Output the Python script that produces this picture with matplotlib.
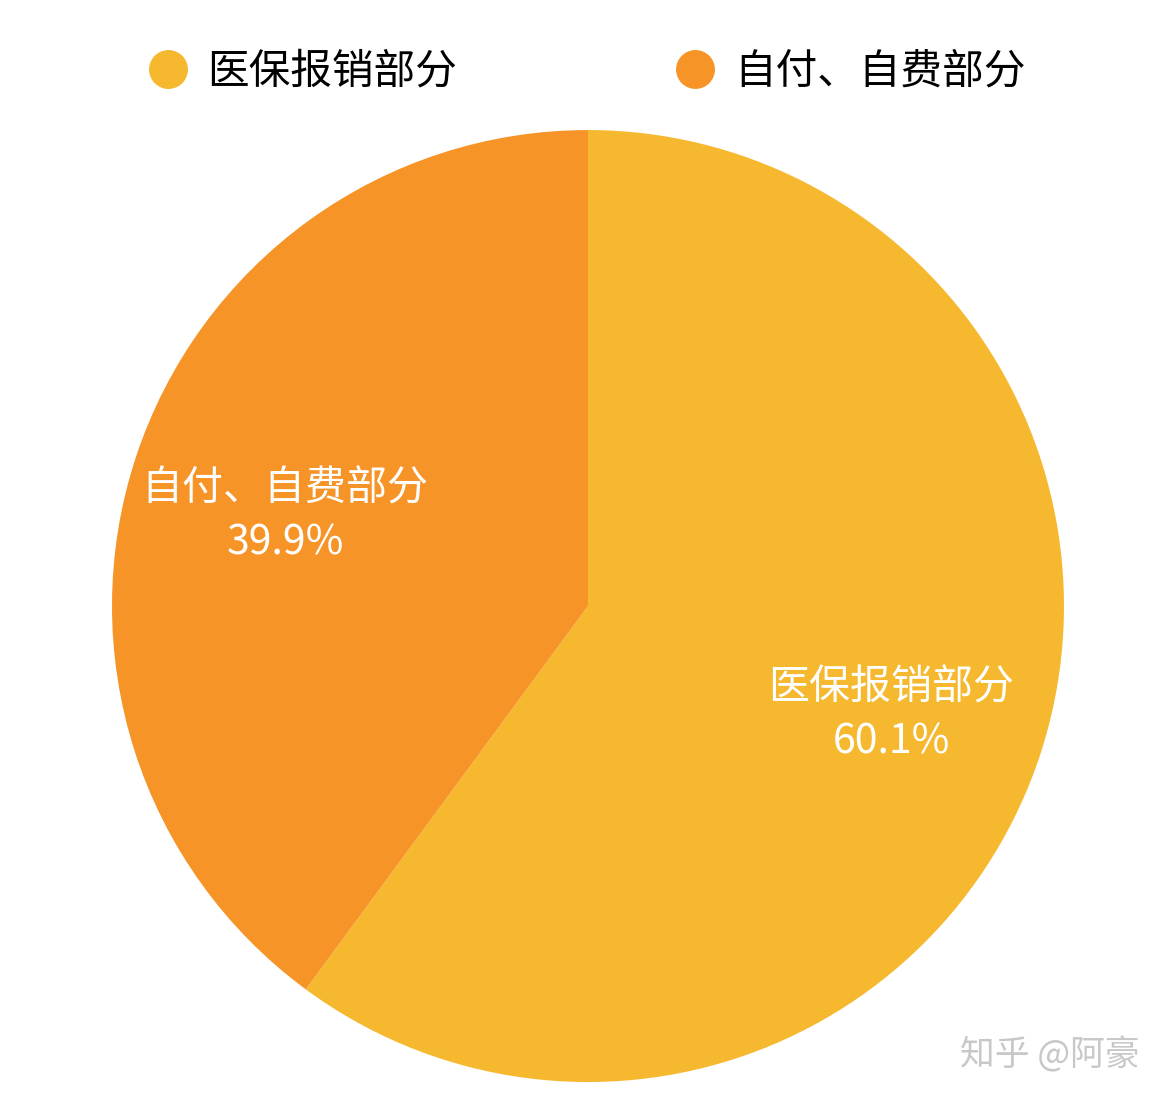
import matplotlib
matplotlib.use("Agg")
import matplotlib.pyplot as plt
from matplotlib.lines import Line2D

plt.rcParams['font.family'] = ['Noto Sans CJK SC', 'DejaVu Sans']

categories = ['医保报销部分', '自付、自费部分']
values = [60.1, 39.9]
colors = ['#F5B82E', '#F79428']

fig = plt.figure(figsize=(11.7, 11.04), dpi=100)
ax = fig.add_axes([0.0957, 0.0199, 0.8137, 0.8623])

labels = [f"{c}\n{v:.1f}%" for c, v in zip(categories, values)]
wedges, texts = ax.pie(values, colors=colors, startangle=90, counterclock=False,
                       labels=labels, labeldistance=0.67,
                       textprops=dict(color='white', fontsize=29.5, ha='center', va='center', linespacing=1.42))
for t in texts:
    x, y = t.get_position()
    t.set_position((x, y - 0.02))
ax.set_xlim(-1, 1)
ax.set_ylim(-1, 1)
ax.set_aspect('equal')
ax.axis('off')

handles = [Line2D([], [], marker='o', linestyle='none', markersize=27,
                  markerfacecolor=c, markeredgecolor=c) for c in colors]
fig.legend(handles, categories, loc='center', bbox_to_anchor=(0.501, 0.935), ncol=2,
           frameon=False, fontsize=30, handlelength=1.0, handletextpad=0.45,
           columnspacing=5.2)

fig.text(0.897, 0.044, '知乎 @阿豪', color='#c8c8c8', fontsize=25, ha='center', va='center')

fig.savefig('out.png', dpi=100)
